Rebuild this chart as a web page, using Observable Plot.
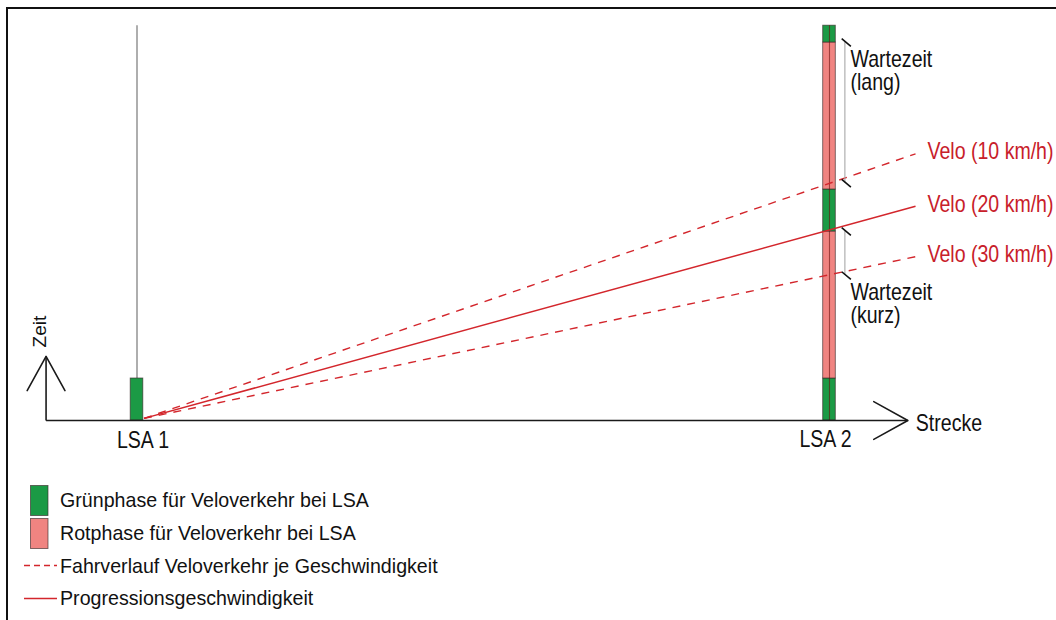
<!DOCTYPE html>
<html>
<head>
<meta charset="utf-8">
<script src="https://cdn.jsdelivr.net/npm/d3@7"></script>
<script src="https://cdn.jsdelivr.net/npm/@observablehq/plot@0.6"></script>
<style>
  html, body { margin: 0; padding: 0; background: #fff; }
  #wrap { position: relative; width: 1056px; height: 620px; overflow: hidden; background: #fff; font-family: "Liberation Sans", Arial, sans-serif; }
  #frame { position: absolute; left: 6px; top: 7px; width: 1200px; height: 800px; border: 2px solid #111; box-sizing: border-box; }
  #chart { position: absolute; left: 0; top: 0; }
  #legend { position: absolute; left: 0; top: 484px; }
  .row { position: relative; height: 32.7px; display: flex; align-items: center; }
  .sw { width: 60px; height: 32.7px; position: relative; flex: none; }
  .lab { display: inline-block; font-size: 21px; color: #111; transform: scaleX(0.935); transform-origin: left center; white-space: nowrap; }
</style>
</head>
<body>
<div id="wrap">
  <div id="frame"></div>
  <div id="chart"></div>
  <div id="legend"></div>
</div>
<script>
// ---- data (distance in m along the route, time in s) ----
const signalNames = ["LSA 1", "LSA 2"];
const signalPos = [0, 495];

const phaseSignal = ["LSA 1", "LSA 2", "LSA 2", "LSA 2", "LSA 2", "LSA 2"];
const phaseStart  = [0, 0, 20, 90, 110, 180];
const phaseEnd    = [20, 20, 90, 110, 180, 188];
const phaseType   = ["grün", "grün", "rot", "grün", "rot", "grün"];

const lsa1GuideFrom = 20;
const lsa1GuideTo = 188;

const speedKmh = [10, 20, 30];
const speedLabels = ["Velo (10 km/h)", "Velo (20 km/h)", "Velo (30 km/h)"];
const progressionKmh = 20;
const pathStartDist = 5;
const pathStartTime = 1;
const pathEndDist = 556.5;
const pathEndTime = [127, 102, 78];

const waitLabels = ["Wartezeit\n(lang)", "Wartezeit\n(kurz)"];
const waitFrom = [113, 69];
const waitTo = [180, 90];
const waitLabelTime = [180, 69];
const waitDist = 506;

const axisNames = ["Strecke", "Zeit"];
const axisOriginDist = -65;
const axisEndDist = [551, -65];
const axisEndTime = [0, 30.5];
const axisDirection = [90, 0];

const legendLabels = [
  "Grünphase für Veloverkehr bei LSA",
  "Rotphase für Veloverkehr bei LSA",
  "Fahrverlauf Veloverkehr je Geschwindigkeit",
  "Progressionsgeschwindigkeit"
];
const legendKinds = ["grün", "rot", "dashed", "solid"];

// ---- styles ----
const phaseColor = {"grün": "#1b9a45", "rot": "#f08481"};
const lineRed = "#d3262c";
const textRed = "#c8202a";

// ---- tables ----
const phases = phaseStart.map((s, i) => ({
  signal: phaseSignal[i],
  pos: signalPos[signalNames.indexOf(phaseSignal[i])],
  start: s, end: phaseEnd[i], type: phaseType[i]
}));
const signals = signalNames.map((n, i) => ({name: n, pos: signalPos[i]}));
const paths = speedKmh.map((v, i) => ({
  v, label: speedLabels[i],
  x1: pathStartDist, y1: pathStartTime, x2: pathEndDist, y2: pathEndTime[i]
}));
const waits = waitLabels.map((l, i) => ({label: l, from: waitFrom[i], to: waitTo[i], at: waitLabelTime[i]}));
const waitTicks = waits.flatMap(w => [{t: w.from}, {t: w.to}]);
const axes = axisNames.map((n, i) => ({
  name: n, x1: axisOriginDist, y1: 0, x2: axisEndDist[i], y2: axisEndTime[i], rot: axisDirection[i]
}));

const chevron = {
  draw(ctx, l) {
    const a = 29 * Math.PI / 180;
    ctx.moveTo(-l * Math.sin(a), l * Math.cos(a));
    ctx.lineTo(0, 0);
    ctx.lineTo(l * Math.sin(a), l * Math.cos(a));
  }
};
const stroke = {
  draw(ctx, l) { ctx.moveTo(0, 0); ctx.lineTo(0, -l); }
};

const font = "'Liberation Sans', Arial, sans-serif";

const chart = Plot.plot({
  width: 1056,
  height: 465,
  margin: 0,
  x: {domain: [0, 495], range: [136.5, 829], axis: null},
  y: {domain: [0, 90], range: [420, 231], axis: null},
  style: {fontFamily: font, background: "transparent", color: "#111", overflow: "visible"},
  marks: [
    // LSA 1 time guide
    Plot.ruleX([signalPos[0]], {x: d => d, y1: lsa1GuideFrom, y2: lsa1GuideTo, stroke: "#9a9a9a", strokeWidth: 1.6}),
    // signal phases
    Plot.rect(phases, {
      x1: "pos", x2: "pos", y1: "start", y2: "end",
      insetLeft: -6.3, insetRight: -6.3,
      fill: d => phaseColor[d.type], stroke: "#3a2a2a", strokeOpacity: 0.7, strokeWidth: 0.9
    }),
    // LSA 2 center line
    Plot.ruleX([signalPos[1]], {x: d => d, y1: 0, y2: lsa1GuideTo, stroke: "#6a0e0e", strokeOpacity: 0.6, strokeWidth: 1.1}),
    // speed paths
    Plot.link(paths.filter(d => d.v !== progressionKmh), {
      x1: "x1", y1: "y1", x2: "x2", y2: "y2", stroke: lineRed, strokeWidth: 1.4, strokeDasharray: "8,7"
    }),
    Plot.link(paths.filter(d => d.v === progressionKmh), {
      x1: "x1", y1: "y1", x2: "x2", y2: "y2", stroke: lineRed, strokeWidth: 1.5
    }),
    Plot.text(paths, {
      x: "x2", y: "y2", text: "label", textAnchor: "start", dx: 12, dy: -2,
      fill: textRed, fontSize: 23
    }),
    // waiting time brackets
    Plot.ruleX(waits, {x: waitDist, y1: "from", y2: "to", stroke: "#a8a8a8", strokeWidth: 1.1}),
    Plot.vector(waitTicks, {
      x: waitDist + 1, y: "t", length: 12, rotate: 130, anchor: "middle",
      shape: stroke, stroke: "#111", strokeWidth: 1.6, strokeLinecap: "butt"
    }),
    Plot.text(waits, {
      x: waitDist + 4, y: "at", text: "label", textAnchor: "start", lineAnchor: "top",
      dy: 8, lineHeight: 1.0, fontSize: 23, fill: "#111"
    }),
    // axes with open arrow heads
    Plot.link(axes, {x1: "x1", y1: "y1", x2: "x2", y2: "y2", stroke: "#1a1a1a", strokeWidth: 1.6}),
    Plot.vector(axes, {
      x: "x2", y: "y2", rotate: "rot", length: 39, anchor: "start",
      shape: chevron, stroke: "#1a1a1a", strokeWidth: 1.6
    }),
    Plot.text([axes[0]], {
      x: "x2", y: "y2", text: "name", textAnchor: "start", dx: 8, dy: 3, fontSize: 23, fill: "#111"
    }),
    Plot.text([axes[1]], {
      x: "x2", y: "y2", text: "name", textAnchor: "start", rotate: -90, dx: -6, dy: -9, fontSize: 19, fill: "#111"
    }),
    // signal labels
    Plot.text(signals.slice(0, 1), {
      x: "pos", y: 0, text: "name", lineAnchor: "top", dx: 6, dy: 11, fontSize: 23, fill: "#111"
    }),
    Plot.text(signals.slice(1), {
      x: "pos", y: 0, text: "name", lineAnchor: "top", dx: -4, dy: 10, fontSize: 23, fill: "#111"
    })
  ]
});

document.getElementById("chart").appendChild(chart);

// narrow the horizontal type like the original drawing (scale about each text's anchor)
const SVGNS = "http://www.w3.org/2000/svg";
Array.from(chart.querySelectorAll("text")).forEach(el => {
  const tr = el.getAttribute("transform") || "";
  if (tr.includes("rotate")) return;
  const r = el.getBoundingClientRect();
  const anchor = getComputedStyle(el).textAnchor;
  const sx = anchor === "middle" ? (r.left + r.right) / 2 : anchor === "end" ? r.right : r.left;
  const m = el.parentNode.getScreenCTM().inverse();
  const lp = new DOMPoint(sx, r.top).matrixTransform(m);
  const g = document.createElementNS(SVGNS, "g");
  g.setAttribute("transform", `translate(${lp.x},0) scale(0.85,1) translate(${-lp.x},0)`);
  el.parentNode.insertBefore(g, el);
  g.appendChild(el);
});

// ---- legend ----
const legend = d3.select("#legend");
legendLabels.forEach((label, i) => {
  const kind = legendKinds[i];
  const row = legend.append("div").attr("class", "row");
  const sw = row.append("svg").attr("class", "sw").attr("width", 60).attr("height", 32.7);
  if (kind === "grün" || kind === "rot") {
    sw.append("rect").attr("x", 30.5).attr("y", 1.5).attr("width", 17.5).attr("height", 30)
      .attr("fill", phaseColor[kind]).attr("stroke", "#3a2a2a").attr("stroke-opacity", 0.7).attr("stroke-width", 0.9);
  } else {
    sw.append("line").attr("x1", 24).attr("x2", 57).attr("y1", 16.5).attr("y2", 16.5)
      .attr("stroke", lineRed).attr("stroke-width", 1.4)
      .attr("stroke-dasharray", kind === "dashed" ? "6,4" : null);
  }
  row.append("span").attr("class", "lab").text(label);
});
</script>
</body>
</html>
